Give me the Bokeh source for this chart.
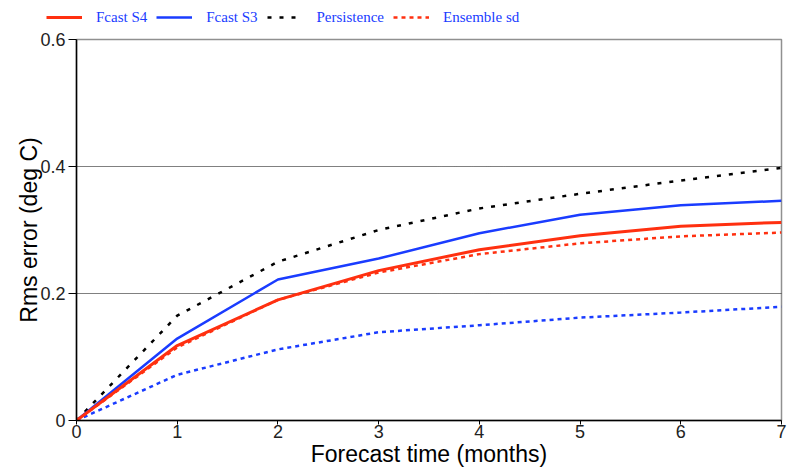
from bokeh.plotting import figure
from bokeh.layouts import column
from bokeh.models import Legend, LegendItem, FixedTicker, Range1d
from bokeh.embed import file_html
from bokeh.resources import INLINE

months = [0, 1, 2, 3, 4, 5, 6, 7]
fcast_s4 = [0, 0.118, 0.190, 0.236, 0.269, 0.291, 0.306, 0.312]
fcast_s3 = [0, 0.129, 0.222, 0.255, 0.295, 0.324, 0.339, 0.346]
persistence = [0, 0.165, 0.250, 0.300, 0.334, 0.357, 0.378, 0.398]
ens_sd_s4 = [0, 0.115, 0.190, 0.233, 0.262, 0.279, 0.290, 0.296]
ens_sd_s3 = [0, 0.072, 0.112, 0.139, 0.150, 0.162, 0.170, 0.179]

y_ticks = [0, 0.2, 0.4, 0.6]
y_tick_labels = {0: "0", 0.2: "0.2", 0.4: "0.4", 0.6: "0.6"}
x_ticks = [0, 1, 2, 3, 4, 5, 6, 7]
legend_labels = ["Fcast S4", "Fcast S3", "Persistence", "Ensemble sd"]
legend_series = [fcast_s4, fcast_s3, persistence, ens_sd_s4]

RED = "#ff3010"
BLUE = "#1a3cff"

styles = [
    dict(line_color=RED, line_width=3),
    dict(line_color=BLUE, line_width=2.5),
    dict(line_color="black", line_width=2.5, line_dash="4 8"),
    dict(line_color=RED, line_width=2.5, line_dash="4 4"),
]

# ---- main plot ----
p = figure(width=789, height=443, output_backend="svg", toolbar_location=None,
           x_range=Range1d(0, 7), y_range=Range1d(0, 0.6),
           min_border_left=76, min_border_right=8, min_border_bottom=52, min_border_top=10)
p.background_fill_color = "white"
p.border_fill_color = "white"
p.outline_line_color = "#909090"
p.outline_line_width = 1.5

p.xgrid.grid_line_color = None
p.ygrid.grid_line_color = "black"
p.ygrid.grid_line_dash = "1 1"
p.ygrid.grid_line_width = 1
p.ygrid.ticker = FixedTicker(ticks=[0.2, 0.4, 0.6])

for ax in (p.xaxis[0], p.yaxis[0]):
    ax.axis_line_color = "black"
    ax.axis_line_width = 1.5
    ax.major_tick_line_color = "black"
    ax.major_tick_in = 0
    ax.minor_tick_line_color = None
    ax.major_label_text_font = "Liberation Sans"
    ax.major_label_text_font_size = "18px"
    ax.major_label_text_color = "#222222"
    ax.axis_label_text_font = "Liberation Sans"
    ax.axis_label_text_font_size = "23px"
    ax.axis_label_text_font_style = "normal"
    ax.axis_label_text_color = "black"

p.xaxis.major_tick_out = 4
p.yaxis.major_tick_out = 8
p.xaxis.ticker = FixedTicker(ticks=x_ticks)
p.yaxis.ticker = FixedTicker(ticks=y_ticks)
p.yaxis.major_label_overrides = y_tick_labels
p.xaxis.axis_label = "Forecast time (months)"
p.yaxis.axis_label = "Rms error (deg C)"
p.xaxis.major_label_standoff = 0
p.yaxis.major_label_standoff = 3
p.xaxis.axis_label_standoff = 0
p.yaxis.axis_label_standoff = -5

p.line(months, persistence, **styles[2])
p.line(months, ens_sd_s3, line_color=BLUE, line_width=2.5, line_dash="4 4")
p.line(months, ens_sd_s4, **styles[3])
p.line(months, fcast_s3, **styles[1])
p.line(months, fcast_s4, **styles[0])

# ---- legend strip: same series, ranges set so the lines fall outside its frame ----
lg = figure(width=789, height=29, output_backend="svg", toolbar_location=None,
            x_range=Range1d(100, 101), y_range=Range1d(100, 101),
            x_axis_location=None, y_axis_location=None,
            min_border_left=0, min_border_right=0, min_border_top=0, min_border_bottom=0)
lg.outline_line_color = None
lg.xgrid.grid_line_color = None
lg.ygrid.grid_line_color = None
lg.background_fill_color = "white"
lg.border_fill_color = "white"
items = []
for lab, ser, st in zip(legend_labels, legend_series, styles):
    r = lg.line(months, ser, **st)
    items.append(LegendItem(label=lab, renderers=[r]))
legend = Legend(items=items, orientation="horizontal", location=(46, 2))
legend.label_text_font = "Liberation Serif"
legend.label_text_font_size = "15px"
legend.label_text_color = BLUE
legend.glyph_width = 36
legend.label_standoff = 14
legend.spacing = 9
legend.border_line_color = None
legend.background_fill_alpha = 0
legend.margin = 0
legend.padding = 4
lg.add_layout(legend, "center")

layout = column(column(lg, spacing=0), p, spacing=0)
open("out.html", "w").write(file_html(layout, INLINE))
